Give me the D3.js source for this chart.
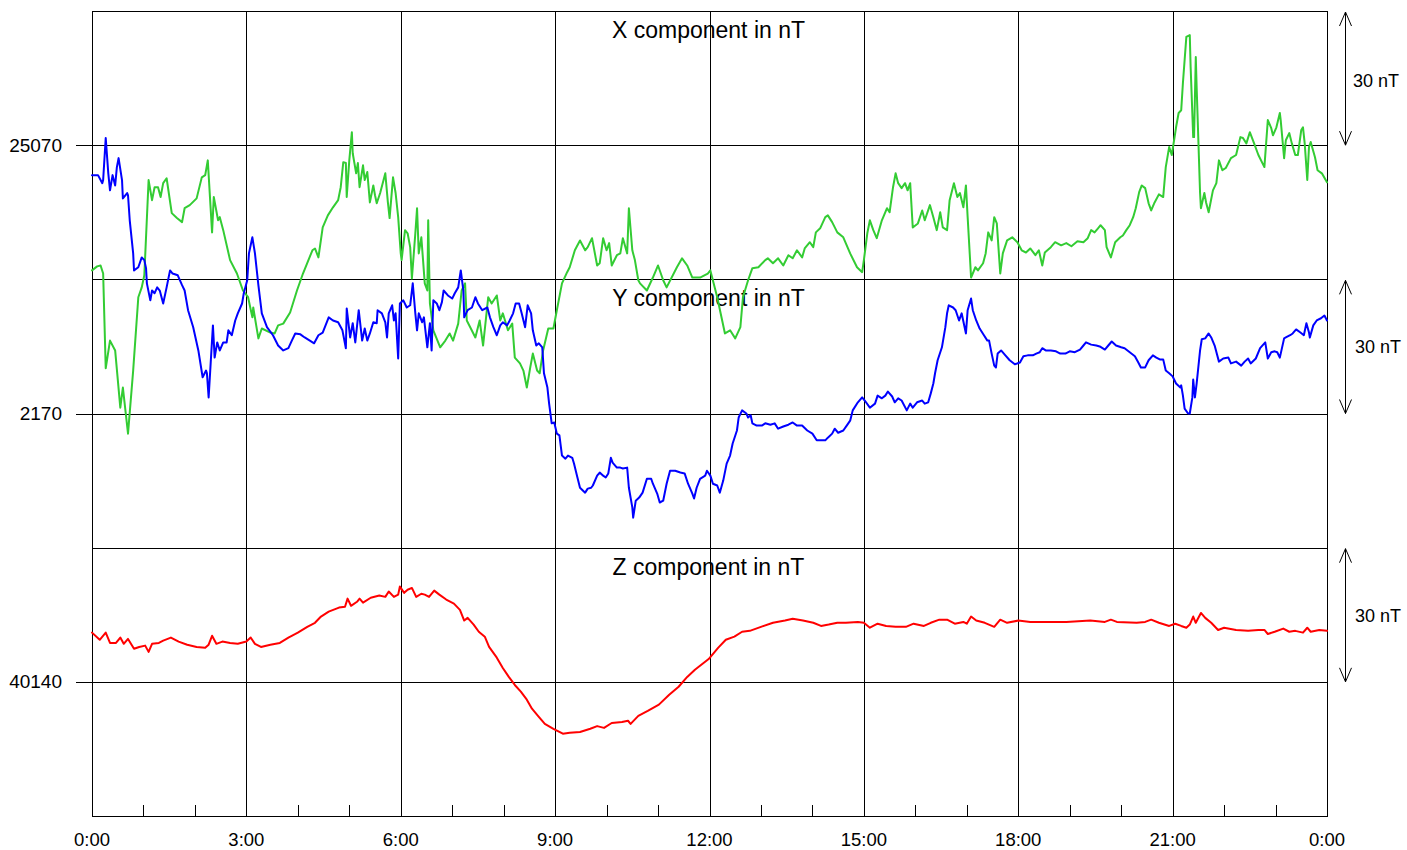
<!DOCTYPE html>
<html><head><meta charset="utf-8">
<script src="https://cdn.jsdelivr.net/npm/d3@7"></script>
<style>
body{margin:0;background:#fff;}
svg{display:block;font-family:"Liberation Sans",Arial,Helvetica,sans-serif;}
</style>
</head><body>
<svg id="chart" width="1407" height="850"></svg>
<script>
// ---------- DATA ----------
const xTickLabels = ["0:00","3:00","6:00","9:00","12:00","15:00","18:00","21:00","0:00"];
const xTickMinutes = [0,180,360,540,720,900,1080,1260,1440];
const minorTickMinutes = [60,120,240,300,420,480,600,660,780,840,960,1020,1140,1200,1320,1380];
const componentTitles = ["X component in nT","Y component in nT","Z component in nT"];
const baseValues = [25070, 2170, 40140];
const baseLabels = ["25070","2170","40140"];
const scaleLabel = "30 nT";
const scaleNT = 30;

const timesX = [0,6,10,13,16,21,27,33,36,42,48,54,58,61,66,70,73,77,80,83,87,93,99,105,108,114,122,128,132,135,140,142,147,149,153,161,169,176,182,187,188,194,198,208,213,217,223,231,239,246,257,260,264,269,275,281,287,290,293,296,297,300,303,304,308,310,312,316,318,321,324,328,330,332,336,342,345,347,351,354,357,360,361,365,368,371,373,377,379,381,384,386,388,391,392,394,398,406,412,417,421,427,431,435,437,441,447,452,456,462,466,472,476,479,485,490,493,499,503,507,511,514,519,522,526,532,538,542,548,554,557,563,569,575,578,583,589,592,596,600,603,606,612,616,619,624,626,630,633,637,639,647,654,660,666,670,682,688,694,700,709,718,721,729,738,744,750,756,759,765,770,777,785,788,794,800,806,812,817,822,828,831,837,841,844,849,855,858,863,869,876,884,892,898,900,904,907,911,915,921,927,930,934,937,940,944,948,951,954,957,963,968,971,977,981,985,989,992,997,1000,1005,1009,1012,1016,1019,1021,1025,1030,1033,1039,1042,1045,1049,1052,1055,1059,1062,1067,1073,1079,1084,1089,1094,1100,1104,1108,1111,1118,1123,1130,1136,1142,1149,1156,1161,1165,1169,1173,1176,1181,1183,1188,1193,1199,1202,1206,1210,1214,1217,1221,1224,1228,1232,1235,1239,1244,1249,1252,1256,1259,1263,1264,1267,1270,1272,1276,1280,1281,1284,1285,1287,1288,1292,1293,1297,1299,1302,1307,1311,1314,1318,1322,1328,1334,1339,1342,1346,1350,1355,1360,1367,1371,1375,1377,1381,1385,1386,1390,1392,1396,1399,1403,1406,1410,1412,1414,1417,1419,1421,1426,1429,1434,1440];
const valuesX = [25042.0,25042.9,25043.1,25041.3,25020.1,25026.3,25024.1,25011.3,25015.8,25005.5,25019.6,25036.0,25038.2,25040.9,25062.2,25057.7,25060.6,25060.6,25058.4,25061.5,25062.6,25054.8,25053.7,25052.8,25055.9,25056.6,25058.1,25062.8,25063.3,25066.6,25050.5,25058.4,25053.2,25053.9,25051.0,25044.3,25041.3,25037.5,25036.0,25031.5,25033.7,25026.8,25029.0,25028.1,25027.9,25029.7,25030.1,25032.6,25037.5,25041.3,25046.5,25046.9,25044.9,25051.6,25054.3,25056.1,25057.7,25060.6,25066.2,25066.0,25058.4,25066.6,25072.9,25068.2,25063.7,25066.0,25060.6,25065.5,25062.2,25064.0,25057.2,25061.0,25058.8,25057.0,25059.3,25063.7,25057.2,25053.7,25062.8,25059.3,25053.9,25045.8,25044.3,25051.0,25050.3,25047.2,25040.2,25050.3,25055.9,25045.8,25049.4,25044.3,25039.1,25037.5,25053.2,25034.6,25028.6,25024.8,25026.3,25027.9,25026.3,25030.1,25037.5,25039.1,25030.8,25029.3,25027.0,25030.8,25025.2,25036.0,25034.6,25036.4,25030.8,25032.4,25028.6,25030.1,25022.5,25021.2,25019.6,25015.8,25020.3,25023.4,25019.6,25019.0,25024.1,25029.0,25029.0,25033.1,25039.1,25041.6,25042.7,25046.5,25048.7,25046.5,25047.2,25049.2,25043.1,25043.6,25049.2,25046.5,25048.1,25043.1,25045.4,25045.8,25049.2,25045.8,25055.9,25046.5,25044.3,25039.8,25039.1,25037.5,25040.4,25043.1,25039.8,25038.2,25042.7,25044.7,25043.1,25040.4,25040.4,25041.3,25042.0,25036.0,25027.9,25028.6,25026.8,25029.3,25036.0,25039.8,25042.5,25042.7,25044.3,25044.7,25043.6,25044.7,25043.1,25045.4,25044.7,25046.5,25044.9,25046.9,25048.3,25047.2,25050.5,25051.4,25053.9,25054.3,25052.8,25050.5,25049.4,25045.8,25042.7,25041.6,25044.3,25050.3,25053.2,25051.0,25049.2,25053.2,25055.9,25055.0,25060.6,25063.7,25061.5,25060.4,25061.5,25059.9,25061.5,25051.6,25052.5,25055.4,25053.2,25056.6,25053.9,25051.0,25055.0,25051.6,25051.0,25057.7,25061.5,25058.4,25059.3,25056.1,25061.0,25053.9,25040.4,25042.7,25042.0,25043.6,25045.8,25050.5,25048.7,25053.9,25052.5,25041.3,25045.8,25048.7,25049.4,25048.3,25046.5,25046.0,25046.9,25045.4,25046.5,25043.1,25046.0,25047.2,25048.3,25047.6,25048.1,25047.4,25048.5,25048.3,25049.2,25051.0,25050.5,25051.4,25052.1,25051.0,25047.2,25044.9,25048.3,25049.4,25049.8,25051.0,25052.1,25053.9,25055.9,25059.5,25061.0,25060.4,25057.0,25055.4,25057.2,25059.0,25058.4,25065.1,25069.6,25067.8,25072.7,25074.0,25077.2,25077.8,25083.9,25094.2,25094.6,25087.5,25071.8,25071.8,25089.7,25083.0,25059.3,25055.9,25059.3,25057.2,25055.0,25059.9,25061.5,25066.6,25064.4,25064.9,25067.1,25067.8,25071.8,25071.6,25070.4,25072.9,25070.4,25067.8,25065.1,25075.6,25073.8,25072.2,25074.0,25077.2,25075.6,25067.1,25071.1,25072.7,25070.4,25067.8,25067.8,25073.4,25074.0,25070.4,25062.2,25069.6,25070.7,25067.3,25064.4,25063.7,25061.7];

const timesY = [0,7,12,13,16,19,21,24,27,29,31,35,36,41,42,44,48,49,54,58,61,63,64,68,70,73,76,79,83,87,91,94,100,105,108,112,118,124,129,133,134,136,141,143,146,149,153,157,159,163,167,170,175,177,181,183,187,190,194,198,204,211,217,223,229,233,237,243,248,254,259,264,269,276,281,287,292,296,297,301,304,307,311,315,318,321,324,328,332,333,338,342,344,346,350,352,354,357,359,363,367,371,374,377,379,381,385,387,391,394,396,398,402,405,408,410,415,420,423,427,430,433,434,438,443,447,450,455,461,464,468,472,476,479,484,487,491,494,498,501,505,508,512,514,518,521,525,527,531,533,536,539,542,545,548,552,555,560,562,566,569,575,578,582,584,589,592,596,599,602,605,607,612,616,619,624,626,630,631,634,638,642,647,652,654,659,662,666,670,674,680,686,691,695,700,702,705,709,715,717,721,724,729,732,736,740,744,747,752,754,758,763,765,768,770,775,781,785,791,796,800,806,812,817,822,828,834,840,845,851,855,858,863,866,870,876,880,884,887,893,898,901,907,913,916,921,925,928,933,936,940,944,950,954,957,962,968,971,975,978,981,983,986,991,995,997,999,1004,1007,1011,1014,1019,1021,1025,1027,1031,1035,1040,1044,1046,1049,1052,1054,1056,1060,1065,1070,1076,1082,1086,1091,1097,1101,1105,1108,1112,1118,1124,1129,1135,1140,1146,1152,1156,1159,1165,1171,1175,1181,1185,1189,1194,1200,1204,1210,1216,1220,1223,1228,1232,1237,1241,1245,1249,1252,1256,1260,1264,1269,1270,1272,1274,1278,1280,1283,1284,1286,1288,1292,1294,1298,1302,1305,1309,1314,1319,1325,1328,1334,1340,1344,1348,1351,1357,1362,1368,1371,1375,1379,1382,1385,1390,1392,1397,1400,1404,1409,1413,1416,1419,1420,1424,1428,1433,1437,1440];
const valuesY = [2223.3,2223.3,2221.5,2222.2,2231.6,2223.7,2219.9,2223.3,2221.0,2225.1,2227.1,2222.2,2218.1,2219.3,2218.8,2213.2,2205.8,2202.0,2202.7,2204.9,2204.3,2202.5,2199.1,2195.3,2197.5,2196.9,2198.2,2197.5,2194.6,2198.2,2202.0,2201.3,2200.9,2198.7,2197.5,2193.1,2189.3,2184.1,2178.1,2179.6,2179.0,2173.6,2189.7,2182.5,2185.9,2184.1,2185.9,2185.9,2188.6,2187.5,2190.8,2192.4,2194.6,2196.9,2199.8,2205.8,2209.4,2205.8,2198.7,2192.4,2189.3,2187.5,2185.2,2184.1,2184.6,2186.3,2187.9,2187.7,2187.0,2186.3,2185.7,2187.5,2188.1,2191.5,2190.8,2190.4,2188.6,2184.6,2193.5,2187.0,2190.2,2185.9,2193.1,2186.3,2189.0,2186.3,2187.9,2190.4,2190.2,2193.1,2192.4,2190.4,2187.0,2192.4,2194.2,2190.8,2192.4,2182.3,2194.6,2195.3,2193.7,2194.2,2199.1,2192.4,2188.6,2192.4,2190.4,2191.5,2184.8,2190.2,2184.1,2195.3,2194.6,2193.1,2194.9,2197.5,2196.4,2195.7,2196.9,2198.2,2202.0,2197.5,2191.5,2193.1,2193.7,2196.0,2194.6,2193.1,2193.7,2191.5,2189.3,2187.5,2189.7,2190.4,2189.7,2190.8,2192.4,2194.6,2194.6,2192.4,2189.3,2194.2,2192.4,2188.6,2185.2,2185.7,2184.8,2179.0,2175.8,2172.2,2167.8,2168.0,2165.5,2165.1,2160.6,2159.9,2160.6,2160.1,2158.8,2155.7,2153.4,2152.3,2153.2,2153.4,2153.9,2156.1,2156.8,2156.1,2155.7,2156.6,2160.1,2159.0,2157.9,2157.9,2157.7,2157.9,2153.4,2149.0,2146.7,2150.5,2151.2,2152.3,2155.4,2155.4,2154.3,2152.1,2150.1,2150.5,2154.3,2157.2,2157.2,2156.8,2156.6,2154.3,2152.1,2151.0,2153.4,2155.4,2156.1,2157.2,2156.1,2154.3,2153.9,2152.3,2155.0,2158.8,2160.6,2163.3,2166.2,2169.1,2170.7,2170.0,2169.1,2169.6,2167.8,2167.3,2167.3,2167.8,2167.5,2167.8,2166.6,2167.1,2167.5,2168.0,2167.3,2167.3,2166.2,2165.5,2164.0,2164.0,2164.0,2164.6,2165.5,2166.6,2165.7,2166.2,2167.3,2168.4,2170.7,2172.5,2173.6,2172.9,2171.3,2172.2,2174.0,2173.4,2174.0,2174.9,2173.8,2172.5,2173.4,2172.9,2170.7,2172.2,2171.3,2172.5,2172.9,2172.2,2172.5,2174.5,2176.7,2179.0,2181.9,2184.8,2189.3,2192.4,2194.2,2193.7,2193.1,2190.8,2192.4,2187.9,2193.1,2195.7,2193.1,2190.8,2189.0,2187.5,2186.3,2186.3,2183.4,2180.7,2180.3,2183.4,2184.1,2183.0,2181.9,2181.0,2181.4,2182.8,2183.0,2183.0,2183.4,2183.7,2184.6,2184.1,2184.1,2183.9,2183.4,2183.4,2183.9,2183.7,2184.3,2185.2,2185.9,2185.4,2185.2,2185.0,2184.3,2185.2,2186.1,2185.2,2184.8,2184.6,2183.7,2182.8,2181.4,2180.3,2180.3,2181.9,2183.0,2182.5,2182.1,2182.1,2179.6,2179.0,2178.3,2176.7,2175.8,2176.3,2174.0,2171.1,2170.0,2170.0,2173.6,2177.6,2173.6,2176.7,2184.1,2186.6,2186.8,2187.9,2187.0,2185.2,2181.6,2182.3,2182.5,2181.2,2181.6,2180.7,2181.6,2182.3,2181.2,2182.3,2184.6,2185.9,2182.3,2183.7,2183.9,2183.7,2182.5,2186.8,2187.0,2187.5,2187.9,2188.8,2188.1,2187.5,2190.2,2188.1,2187.0,2189.7,2190.8,2191.3,2191.9,2190.8];

const timesZ = [0,9,16,21,28,33,37,42,49,55,62,66,70,78,83,92,101,111,122,132,136,140,145,152,161,170,180,185,190,197,208,219,229,240,251,260,267,276,288,295,298,302,309,312,316,325,335,342,346,352,357,359,364,368,373,378,384,388,393,399,405,413,422,429,434,438,445,451,458,463,472,479,486,493,500,507,513,520,528,538,545,549,557,569,581,589,597,606,618,625,628,637,648,661,673,684,694,703,719,730,739,749,758,767,780,794,808,817,829,841,850,859,869,879,893,900,907,916,926,937,949,958,970,978,988,997,1006,1016,1020,1025,1031,1041,1052,1059,1067,1080,1094,1112,1136,1164,1181,1188,1195,1218,1228,1235,1244,1256,1263,1270,1276,1280,1284,1287,1293,1298,1305,1313,1320,1334,1348,1360,1367,1371,1379,1389,1396,1403,1412,1417,1421,1431,1440];
const valuesZ = [40151.0,40149.4,40151.0,40148.7,40148.7,40149.9,40148.5,40149.6,40147.4,40147.8,40148.1,40146.7,40148.5,40148.7,40149.2,40149.9,40149.0,40148.3,40147.8,40147.6,40148.3,40150.3,40148.5,40149.0,40148.7,40148.5,40149.0,40149.9,40148.5,40147.8,40148.3,40148.7,40149.9,40151.0,40152.3,40153.2,40154.6,40155.7,40156.6,40156.8,40158.6,40157.0,40157.9,40158.6,40157.7,40158.8,40159.3,40159.0,40160.2,40159.0,40159.5,40161.3,40159.9,40160.6,40161.0,40159.0,40159.7,40159.5,40159.0,40160.4,40159.5,40158.4,40157.5,40156.1,40153.7,40154.3,40152.8,40151.2,40150.1,40147.8,40145.4,40143.1,40141.1,40139.3,40137.8,40136.0,40134.0,40132.4,40130.6,40129.5,40128.8,40128.4,40128.6,40128.8,40129.5,40130.1,40129.7,40130.8,40131.0,40131.3,40130.6,40132.4,40133.5,40134.9,40137.1,40138.9,40141.1,40142.7,40145.1,40147.6,40149.4,40150.1,40151.2,40151.4,40152.3,40153.2,40153.7,40154.1,40153.7,40153.2,40152.5,40152.8,40153.2,40153.2,40153.4,40153.2,40152.1,40153.0,40152.5,40152.3,40152.3,40153.0,40152.5,40153.2,40153.9,40153.9,40153.0,40153.4,40153.0,40154.6,40153.7,40153.2,40152.3,40153.9,40153.2,40153.7,40153.4,40153.4,40153.4,40153.7,40153.4,40153.9,40153.4,40153.2,40153.4,40153.9,40153.2,40152.5,40153.0,40152.5,40152.1,40152.8,40154.6,40153.2,40155.4,40154.3,40153.2,40151.6,40152.1,40151.6,40151.4,40151.6,40151.6,40150.7,40151.2,40151.9,40151.2,40151.4,40151.0,40152.1,40151.2,40151.6,40151.4];

// ---------- LAYOUT / STYLE ----------
const plotL = 92, plotR = 1327, plotT = 11, plotB = 816;
const panelH = (plotB - plotT) / 3;
const lineColors = ["#33cc33", "#0000ff", "#ff0000"];
const svg = d3.select("#chart");

const xScale = d3.scaleLinear().domain([0, 1440]).range([plotL, plotR]);
const yScales = baseValues.map((b, i) =>
  d3.scaleLinear().domain([b - scaleNT, b + scaleNT]).range([plotT + (i + 1) * panelH, plotT + i * panelH]));

const crisp = v => Math.round(v) + 0.5;

// grid
const grid = svg.append("g").attr("stroke", "#000").attr("stroke-width", 1).attr("shape-rendering", "crispEdges").attr("fill", "none");
xTickMinutes.forEach(m => {
  grid.append("line").attr("x1", crisp(xScale(m))).attr("x2", crisp(xScale(m))).attr("y1", plotT).attr("y2", plotB);
});
yScales.forEach((ys, i) => {
  const b = baseValues[i];
  [b + scaleNT, b, b - scaleNT].forEach(v => {
    grid.append("line").attr("x1", plotL).attr("x2", plotR + 1).attr("y1", crisp(ys(v))).attr("y2", crisp(ys(v)));
  });
  grid.append("line").attr("x1", 76).attr("x2", plotL).attr("y1", crisp(ys(b))).attr("y2", crisp(ys(b)));
});
minorTickMinutes.forEach(m => {
  grid.append("line").attr("x1", crisp(xScale(m))).attr("x2", crisp(xScale(m))).attr("y1", plotB - 11).attr("y2", plotB);
});

// labels
const txt = svg.append("g").attr("fill", "#000");
baseLabels.forEach((l, i) => {
  txt.append("text").attr("x", 62).attr("y", yScales[i](baseValues[i]) + 6.5)
    .attr("text-anchor", "end").attr("font-size", 19).text(l);
});
xTickLabels.forEach((l, i) => {
  txt.append("text").attr("x", xScale(xTickMinutes[i])).attr("y", 846)
    .attr("text-anchor", "middle").attr("font-size", 18.5).text(l);
});
componentTitles.forEach((t, i) => {
  txt.append("text").attr("x", (plotL + plotR) / 2 - 1).attr("y", plotT + i * panelH + 27)
    .attr("text-anchor", "middle").attr("font-size", 23).text(t);
});

// scale arrows
const ax = 1345.5;
yScales.forEach((ys, i) => {
  const y1 = ys(baseValues[i] + scaleNT) + 1, y2 = ys(baseValues[i]);
  const g = svg.append("g").attr("stroke", "#000").attr("stroke-width", 1).attr("fill", "none");
  g.append("line").attr("x1", ax).attr("x2", ax).attr("y1", y1).attr("y2", y2);
  g.append("path").attr("d", `M${ax - 6},${y1 + 14}L${ax},${y1}L${ax + 6},${y1 + 14}`);
  g.append("path").attr("d", `M${ax - 6},${y2 - 14}L${ax},${y2}L${ax + 6},${y2 - 14}`);
  txt.append("text").attr("x", i === 0 ? 1353 : 1355).attr("y", (y1 + y2) / 2 + (i === 0 ? 8.5 : 6.5))
    .attr("font-size", 18).text(scaleLabel);
});

// data lines
const series = [[timesX, valuesX], [timesY, valuesY], [timesZ, valuesZ]];
series.forEach(([ts, vs], i) => {
  const data = ts.map((t, k) => [t, vs[k]]);
  const line = d3.line().x(d => xScale(d[0])).y(d => yScales[i](d[1]));
  svg.append("path").datum(data).attr("d", line)
    .attr("fill", "none").attr("stroke", lineColors[i]).attr("stroke-width", 2)
    .attr("stroke-linejoin", "round").attr("stroke-linecap", "round");
});
</script>
</body></html>
